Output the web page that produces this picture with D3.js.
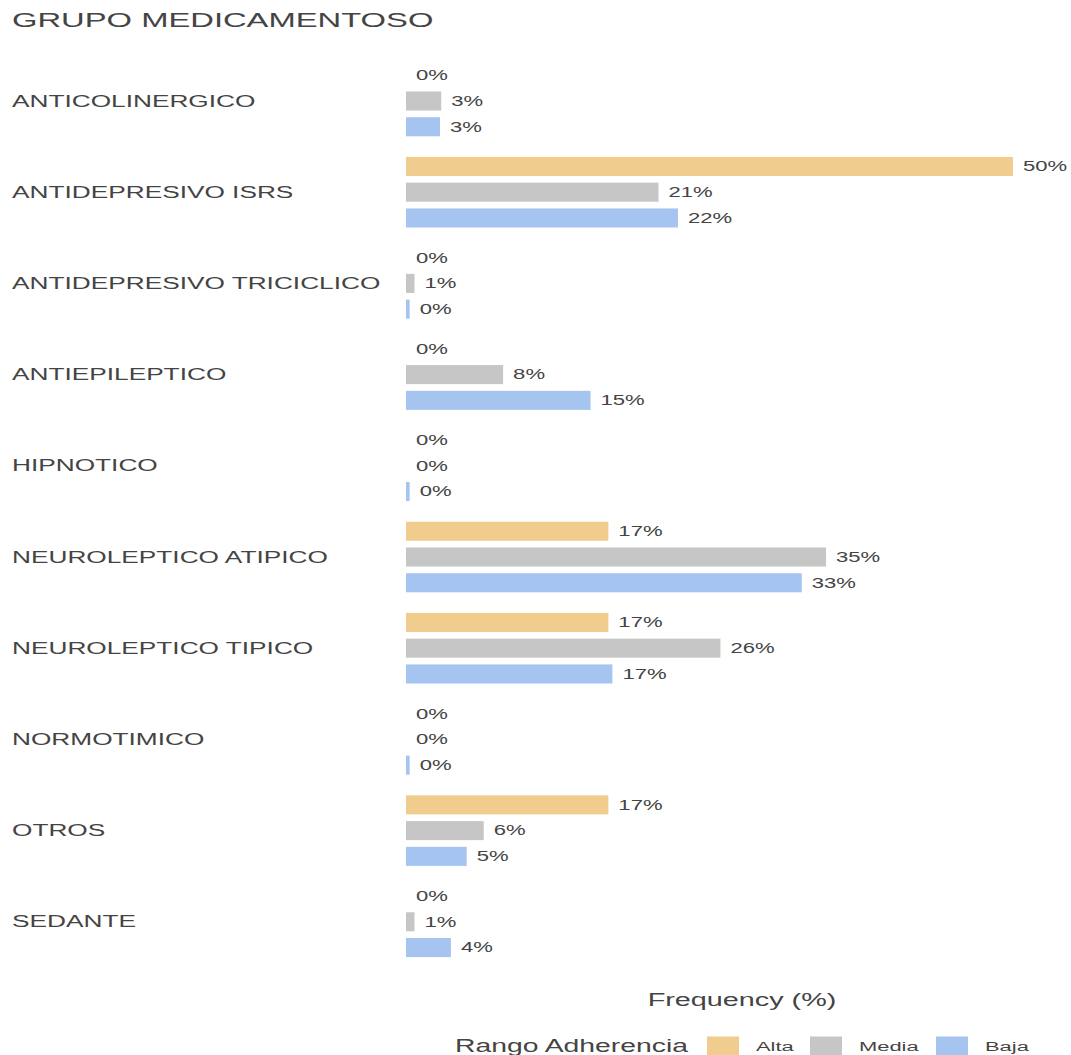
<!DOCTYPE html>
<html>
<head>
<meta charset="utf-8">
<script src="https://cdn.jsdelivr.net/npm/d3@7"></script>
<style>
  html, body { margin: 0; padding: 0; background: #fff; }
  svg { display: block; }
  text { font-family: "Liberation Sans", Arial, sans-serif; fill: #444; }
</style>
</head>
<body>
<div id="chart"></div>
<script>
const categories = [
  "ANTICOLINERGICO",
  "ANTIDEPRESIVO ISRS",
  "ANTIDEPRESIVO TRICICLICO",
  "ANTIEPILEPTICO",
  "HIPNOTICO",
  "NEUROLEPTICO ATIPICO",
  "NEUROLEPTICO TIPICO",
  "NORMOTIMICO",
  "OTROS",
  "SEDANTE",
];
const seriesNames = ["Alta", "Media", "Baja"];
const alta = [0, 50, 0, 0, 0, 16.67, 16.67, 0, 16.67, 0];
const media = [2.9, 20.8, 0.7, 8.0, 0, 34.6, 25.9, 0, 6.4, 0.7];
const baja = [2.8, 22.4, 0.3, 15.2, 0.3, 32.6, 17.0, 0.3, 5.0, 3.7];
const seriesColors = ["#f0cc8e", "#c6c6c6", "#a6c4f0"];

document.addEventListener("DOMContentLoaded", () => {
  const width = 1071;
  const height = 1055;
  const stretch = 1.6; // the reference text is drawn wide

  const seriesValues = [alta, media, baja];

  const svg = d3
    .select("#chart")
    .append("svg")
    .attr("width", width)
    .attr("height", height);

  // wide text helper: places text at (x, y) then stretches it sideways
  const wideText = (parent, x, y, str, size, sx = stretch) =>
    parent
      .append("text")
      .attr("transform", `translate(${x},${y}) scale(${sx},1)`)
      .style("font-size", size + "px")
      .text(str);

  wideText(svg, 12, 27, "GRUPO MEDICAMENTOSO", 19.5, 1.68);

  const x = d3.scaleLinear().domain([0, 50]).range([406, 1013]);

  const y = d3
    .scaleBand()
    .domain(categories)
    .range([55.4, 55.4 + 91.2 * categories.length])
    .padding(0);

  const ySeries = d3
    .scaleBand()
    .domain(seriesNames)
    .range([0, y.bandwidth()])
    .paddingInner(0.26)
    .paddingOuter(0.4);

  const rows = categories.map((cat, i) => ({
    cat,
    bars: seriesNames.map((s, j) => ({ s, value: seriesValues[j][i] })),
  }));

  const group = svg
    .selectAll("g.cat")
    .data(rows)
    .enter()
    .append("g")
    .attr("class", "cat")
    .attr("transform", (d) => `translate(0,${y(d.cat)})`);

  group.each(function (d) {
    const g = d3.select(this);
    const midY = ySeries("Media") + ySeries.bandwidth() / 2;
    wideText(g, 12, midY, d.cat, 16.4).attr("dominant-baseline", "central");
  });

  group
    .selectAll("rect")
    .data((d) => d.bars)
    .enter()
    .append("rect")
    .attr("x", x(0))
    .attr("y", (d) => ySeries(d.s))
    .attr("width", (d) => x(d.value) - x(0))
    .attr("height", ySeries.bandwidth())
    .attr("fill", (d, j) => seriesColors[j]);

  const fmt = d3.format(".0f");
  group.each(function (d) {
    const g = d3.select(this);
    d.bars.forEach((b) => {
      wideText(
        g,
        x(b.value) + 10,
        ySeries(b.s) + ySeries.bandwidth() / 2,
        fmt(b.value) + "%",
        13.8
      ).attr("dominant-baseline", "central");
    });
  });

  // axis title
  wideText(svg, 742, 1006, "Frequency (%)", 18).attr("text-anchor", "middle");

  // legend
  const legendY = 1046;
  wideText(svg, 455, legendY, "Rango Adherencia", 17.7).attr(
    "dominant-baseline",
    "central"
  );
  const legendX = [707, 810, 936];
  seriesNames.forEach((s, j) => {
    svg
      .append("rect")
      .attr("x", legendX[j])
      .attr("y", legendY - 9.5)
      .attr("width", 32)
      .attr("height", 19)
      .attr("fill", seriesColors[j]);
    wideText(svg, legendX[j] + 49, legendY, s, 13.7).attr(
      "dominant-baseline",
      "central"
    );
  });
});
</script>
</body>
</html>
